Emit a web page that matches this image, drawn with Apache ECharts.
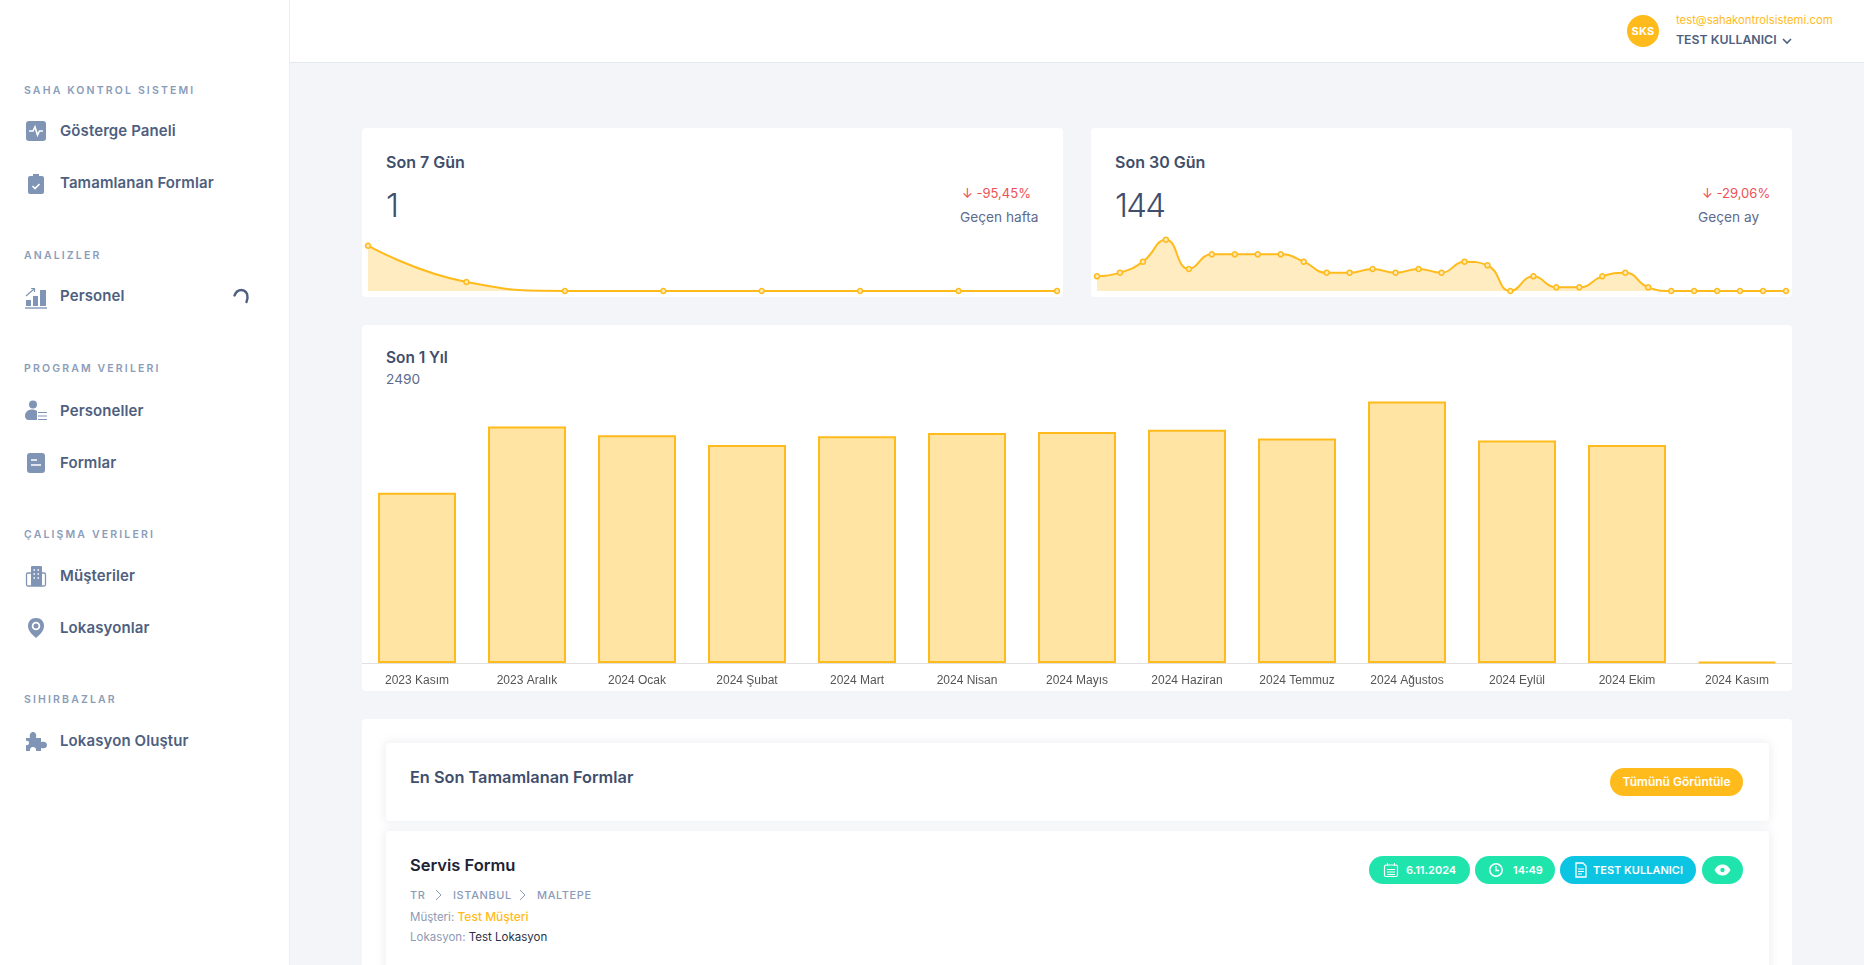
<!DOCTYPE html>
<html lang="tr">
<head>
<meta charset="utf-8">
<title>Saha Kontrol Sistemi</title>
<script src="https://cdn.jsdelivr.net/npm/echarts@6/dist/echarts.min.js"></script>
<style>
html, body { margin: 0; padding: 0; width: 1864px; height: 965px; overflow: hidden; background: #f4f5f8; font-family: Inter, "Noto Sans", sans-serif; }
div, span, svg { box-sizing: border-box; }
.abs { position: absolute; }
.t { position: absolute; white-space: nowrap; line-height: 20px; height: 20px; }
.sec { left: 24px; font-size: 10.5px; font-weight: 600; letter-spacing: 2.15px; color: #8b9cb9; }
.nav { left: 60px; font-size: 15px; font-weight: 600; color: #4f5f80; letter-spacing: 0.1px; }
.ico { position: absolute; left: 24px; width: 24px; height: 24px; }
.card { position: absolute; background: #fff; border-radius: 4px; }
.sub { position: absolute; background: #fff; border-radius: 4px; box-shadow: 0 0 8px 2px rgba(120,130,160,.12); }
.title { font-size: 16px; font-weight: 600; color: #3f4e6b; letter-spacing: 0; }
.big { font-size: 33px; font-weight: 300; color: #3f4e6b; line-height: 40px; height: 40px; letter-spacing: -1.8px; }
.red { font-size: 13px; font-weight: 400; color: #ee5053; }
.gray { font-size: 13.7px; font-weight: 400; color: #5d6b8e; }
.pill { position: absolute; border-radius: 14px; height: 28px; color: #fff; font-size: 11px; font-weight: 600; line-height: 28px; white-space: nowrap; }
.pill span { position: absolute; top: 0; }
.pill svg { position: absolute; }
.crumb { font-size: 11px; font-weight: 500; letter-spacing: 0.6px; color: #8b9cb9; }
.info { font-size: 11.5px; color: #8d9ab3; }
</style>
</head>
<body>

<!-- sidebar -->
<div class="abs" style="left:0;top:0;width:290px;height:965px;background:#fff;border-right:1px solid #eceef4"></div>
<div class="t sec" style="top:81px">SAHA KONTROL SISTEMI</div>
<div class="t sec" style="top:246px">ANALIZLER</div>
<div class="t sec" style="top:359px">PROGRAM VERILERI</div>
<div class="t sec" style="top:525px">ÇALIŞMA VERILERI</div>
<div class="t sec" style="top:690px">SIHIRBAZLAR</div>

<div class="t nav" style="top:121px">Gösterge Paneli</div>
<div class="t nav" style="top:173px">Tamamlanan Formlar</div>
<div class="t nav" style="top:286px">Personel</div>
<div class="t nav" style="top:401px">Personeller</div>
<div class="t nav" style="top:453px">Formlar</div>
<div class="t nav" style="top:566px">Müşteriler</div>
<div class="t nav" style="top:618px">Lokasyonlar</div>
<div class="t nav" style="top:731px">Lokasyon Oluştur</div>

<svg class="ico" style="top:119px" viewBox="0 0 24 24"><rect x="2" y="2" width="20" height="20" rx="3" fill="#8095b5"/><path d="M5 12h4l2-4 2.5 8 2-4H19" fill="none" stroke="#fff" stroke-width="1.6"/></svg>
<svg class="ico" style="top:171px" viewBox="0 0 24 24"><path d="M6 5h3V3h6v2h3a2 2 0 0 1 2 2v14a2 2 0 0 1-2 2H6a2 2 0 0 1-2-2V7a2 2 0 0 1 2-2z" fill="#8095b5"/><path d="M8.5 15l2.5 2.5 4.5-4.5" fill="none" stroke="#fff" stroke-width="1.6"/></svg>
<svg class="ico" style="top:285px" viewBox="0 0 24 24"><rect x="2" y="15" width="5" height="6" fill="#8095b5"/><rect x="9" y="11" width="5" height="10" fill="#8095b5"/><rect x="16" y="5" width="6" height="16" fill="#8095b5"/><path d="M1 23h22" stroke="#8095b5" stroke-width="1.4"/><path d="M2 11l8-7M7 3.5h3.5V7" fill="none" stroke="#8095b5" stroke-width="1.2"/></svg>
<svg class="ico" style="top:399px" viewBox="0 0 24 24"><circle cx="9" cy="5.5" r="4" fill="#8095b5"/><path d="M1 17c0-4 3-6.500 7-6.500 2 0 3.500.5 5 1.500v9H5c-3 0-4-2-4-4z" fill="#8095b5"/><path d="M14 13.500h9M14 17h9M14 20.500h9" stroke="#8095b5" stroke-width="1.200"/></svg>
<svg class="ico" style="top:451px" viewBox="0 0 24 24"><rect x="3" y="2" width="18" height="20" rx="3" fill="#8095b5"/><path d="M7 9h6M7 14h10" stroke="#fff" stroke-width="1.600"/></svg>
<svg class="ico" style="top:564px" viewBox="0 0 24 24"><rect x="7" y="2" width="11" height="20" rx="1" fill="#8095b5"/><rect x="2.500" y="9" width="19" height="13" rx="1.500" fill="none" stroke="#8095b5" stroke-width="1.300"/><path d="M9.500 6h1.500M13.500 6h1.500M9.500 10h1.500M13.500 10h1.500M9.500 14h1.500M13.500 14h1.500" stroke="#fff" stroke-width="1.500"/></svg>
<svg class="ico" style="top:616px" viewBox="0 0 24 24"><path d="M12 2c5 0 8 3.500 8 8 0 5-4.500 9-8 12-3.500-3-8-7-8-12 0-4.500 3-8 8-8z" fill="#8095b5"/><circle cx="12" cy="10" r="3.400" fill="none" stroke="#fff" stroke-width="1.800"/></svg>
<svg class="ico" style="top:729px" viewBox="0 0 24 24"><path d="M2 9h4c-1-4 1-6 3-6s4 2 3 6h5v4c4-1 6 .5 6 3s-2 4-6 3v3h-5c.5-3-1-4-3-4s-3.500 1-3 4H2v-6c2 .5 3-.5 3-2s-1-2.500-3-2z" fill="#8095b5"/></svg>
<svg class="abs" style="left:232px;top:288px;width:18px;height:16px" viewBox="0 0 18 16"><path d="M2.500 7.500C4 3.500 7 2 9.500 2c3.500 0 6.500 3 6 8l-1 4" fill="none" stroke="#4f5f80" stroke-width="2.400" stroke-linecap="round"/></svg>

<!-- header -->
<div class="abs" style="left:290px;top:0;width:1574px;height:63px;background:#fff;border-bottom:1px solid #e6e8f0"></div>
<div class="abs" style="left:1627px;top:15px;width:32px;height:32px;border-radius:16px;background:#ffbb1c;color:#fff;font-size:11px;font-weight:700;line-height:32px;text-align:center;letter-spacing:.3px">SKS</div>
<div class="t" style="left:1676px;top:10px;font-size:11.300px;color:#ffbb1c">test@sahakontrolsistemi.com</div>
<div class="t" style="left:1676px;top:30px;font-size:12.300px;font-weight:600;color:#4f5f80">TEST KULLANICI</div>
<svg class="abs" style="left:1781px;top:36px;width:12px;height:10px" viewBox="0 0 12 10"><path d="M2 3l4 4 4-4" fill="none" stroke="#4f5f80" stroke-width="1.600"/></svg>

<!-- ust kartlar -->
<div class="card" style="left:362px;top:128px;width:701px;height:169px"></div>
<div class="t title" style="left:386px;top:152px">Son 7 Gün</div>
<div class="t big" style="left:386px;top:185px">1</div>
<div class="t red" style="left:962px;top:183px">↓ -95,45%</div>
<div class="t gray" style="left:960px;top:207px">Geçen hafta</div>

<div class="card" style="left:1091px;top:128px;width:701px;height:169px"></div>
<div class="t title" style="left:1115px;top:152px">Son 30 Gün</div>
<div class="t big" style="left:1115px;top:185px">144</div>
<div class="t red" style="left:1702px;top:183px">↓ -29,06%</div>
<div class="t gray" style="left:1698px;top:207px">Geçen ay</div>

<div class="card" style="left:362px;top:325px;width:1430px;height:366px"></div>
<div class="t title" style="left:386px;top:348px;font-size:15.400px">Son 1 Yıl</div>
<div class="t gray" style="left:386px;top:369px">2490</div>

<div id="chart7" class="abs" style="left:362px;top:231px;width:701px;height:66px"></div>
<div id="chart30" class="abs" style="left:1091px;top:226px;width:701px;height:71px"></div>
<div id="chartYear" class="abs" style="left:362px;top:370px;width:1430px;height:321px"></div>

<!-- son formlar -->
<div class="card" style="left:362px;top:719px;width:1430px;height:260px"></div>
<div class="sub" style="left:386px;top:743px;width:1383px;height:78px"></div>
<div class="sub" style="left:386px;top:831px;width:1383px;height:160px"></div>
<div class="t" style="left:410px;top:767px;font-size:16.300px;font-weight:600;color:#3f4e6b">En Son Tamamlanan Formlar</div>
<div class="pill" style="left:1610px;top:768px;width:133px;background:#ffbb1c;text-align:center;font-size:12px">Tümünü Görüntüle</div>

<div class="t" style="left:410px;top:855px;font-size:16.500px;font-weight:600;color:#1e2235">Servis Formu</div>
<div class="t crumb" style="left:410px;top:885px">TR</div>
<svg class="abs" style="left:434px;top:889px;width:9px;height:12px" viewBox="0 0 9 12"><path d="M2 1l5 5-5 5" fill="none" stroke="#8b9cb9" stroke-width="1"/></svg>
<div class="t crumb" style="left:453px;top:885px">ISTANBUL</div>
<svg class="abs" style="left:518px;top:889px;width:9px;height:12px" viewBox="0 0 9 12"><path d="M2 1l5 5-5 5" fill="none" stroke="#8b9cb9" stroke-width="1"/></svg>
<div class="t crumb" style="left:537px;top:885px">MALTEPE</div>
<div class="t info" style="left:410px;top:907px">Müşteri: <span style="color:#ffbb1c;font-weight:500;font-size:12px">Test Müşteri</span></div>
<div class="t info" style="left:410px;top:927px">Lokasyon: <span style="color:#2b2f45">Test Lokasyon</span></div>

<div class="pill" style="left:1369px;top:856px;width:101px;background:#1fe5ad">
  <svg style="left:14px;top:6px;width:16px;height:16px" viewBox="0 0 16 16"><rect x="1.500" y="3" width="13" height="11.500" rx="1.500" fill="none" stroke="#fff" stroke-width="1.200"/><path d="M4.500 1v3M11.500 1v3M4 7.500h8M4 10h8M4 12.500h8" stroke="#fff" stroke-width="1.100"/></svg>
  <span style="left:37px">6.11.2024</span>
</div>
<div class="pill" style="left:1475px;top:856px;width:80px;background:#1fe5ad">
  <svg style="left:13px;top:6px;width:16px;height:16px" viewBox="0 0 16 16"><circle cx="8" cy="8" r="6.200" fill="none" stroke="#fff" stroke-width="1.500"/><path d="M8 4v4.500h3" fill="none" stroke="#fff" stroke-width="1.300"/></svg>
  <span style="left:38px">14:49</span>
</div>
<div class="pill" style="left:1560px;top:856px;width:136px;background:#0bc5e3">
  <svg style="left:15px;top:6px;width:12px;height:16px" viewBox="0 0 12 16"><path d="M1 1h7l3 3v11H1z" fill="none" stroke="#fff" stroke-width="1.300"/><path d="M3 7h6M3 9.500h6M3 12h4" stroke="#fff" stroke-width="1"/></svg>
  <span style="left:33px">TEST KULLANICI</span>
</div>
<div class="pill" style="left:1702px;top:856px;width:41px;background:#1fe5ad">
  <svg style="left:12px;top:7px;width:17px;height:14px" viewBox="0 0 17 14"><path d="M0.500 7C3 2.500 6 1.500 8.500 1.500S14 2.500 16.500 7C14 11.500 11 12.500 8.500 12.500S3 11.500 0.500 7z" fill="#fff"/><circle cx="8.500" cy="7" r="2.200" fill="#1fe5ad"/></svg>
</div>

<script>
// son 7 gun
var weekValues = [5, 1, 0, 0, 0, 0, 0, 0];
// son 30 gun
var monthValues = [4, 5, 8, 14, 6, 10, 10, 10, 10, 8, 5, 5, 6, 5, 6, 5, 8, 7, 0, 4, 1, 1, 4, 5, 1, 0, 0, 0, 0, 0, 0];
// son 1 yil
var yearLabels = ['2023 Kasım', '2023 Aralık', '2024 Ocak', '2024 Şubat', '2024 Mart', '2024 Nisan', '2024 Mayıs', '2024 Haziran', '2024 Temmuz', '2024 Ağustos', '2024 Eylül', '2024 Ekim', '2024 Kasım'];
var yearValues = [157, 218, 210, 201, 209, 212, 213, 215, 207, 241, 205, 201, 1];

var mainColor = '#ffbb1c';

function lineOption(values, maxValue, grid) {
	return {
		animation: false,
		grid: grid,
		xAxis: {
			type: 'category',
			boundaryGap: false,
			show: false
		},
		yAxis: {
			type: 'value',
			min: 0,
			max: maxValue,
			show: false
		},
		series: [{
			type: 'line',
			data: values,
			smooth: 0.5,
			clip: false,
			symbol: 'circle',
			symbolSize: 5,
			showAllSymbol: true,
			itemStyle: {
				color: '#ffe9b5',
				borderColor: mainColor,
				borderWidth: 1.5
			},
			lineStyle: {
				color: mainColor,
				width: 2
			},
			areaStyle: {
				color: 'rgba(255,187,28,0.4)'
			}
		}]
	};
}

var chart7 = echarts.init(document.getElementById('chart7'));
chart7.setOption(lineOption(weekValues, 5, { left: 6, top: 14.7, width: 689, height: 45.3 }));

var chart30 = echarts.init(document.getElementById('chart30'));
chart30.setOption(lineOption(monthValues, 15, { left: 6, top: 10, width: 689, height: 55 }));

var chartYear = echarts.init(document.getElementById('chartYear'));
chartYear.setOption({
	animation: false,
	grid: { left: 0, top: 12, width: 1430, height: 281 },
	xAxis: {
		type: 'category',
		data: yearLabels,
		axisTick: { show: false },
		axisLine: { lineStyle: { color: '#e0e0e0', width: 1 } },
		axisLabel: {
			color: '#555',
			fontFamily: '"Liberation Sans", Arial, sans-serif',
			fontSize: 12,
			margin: 12
		}
	},
	yAxis: {
		type: 'value',
		min: 0,
		max: 259,
		show: false
	},
	series: [{
		type: 'bar',
		data: yearValues,
		barWidth: 78,
		itemStyle: {
			color: 'rgba(255,187,28,0.4)',
			borderColor: mainColor,
			borderWidth: 2
		}
	}]
});
</script>
</body>
</html>
